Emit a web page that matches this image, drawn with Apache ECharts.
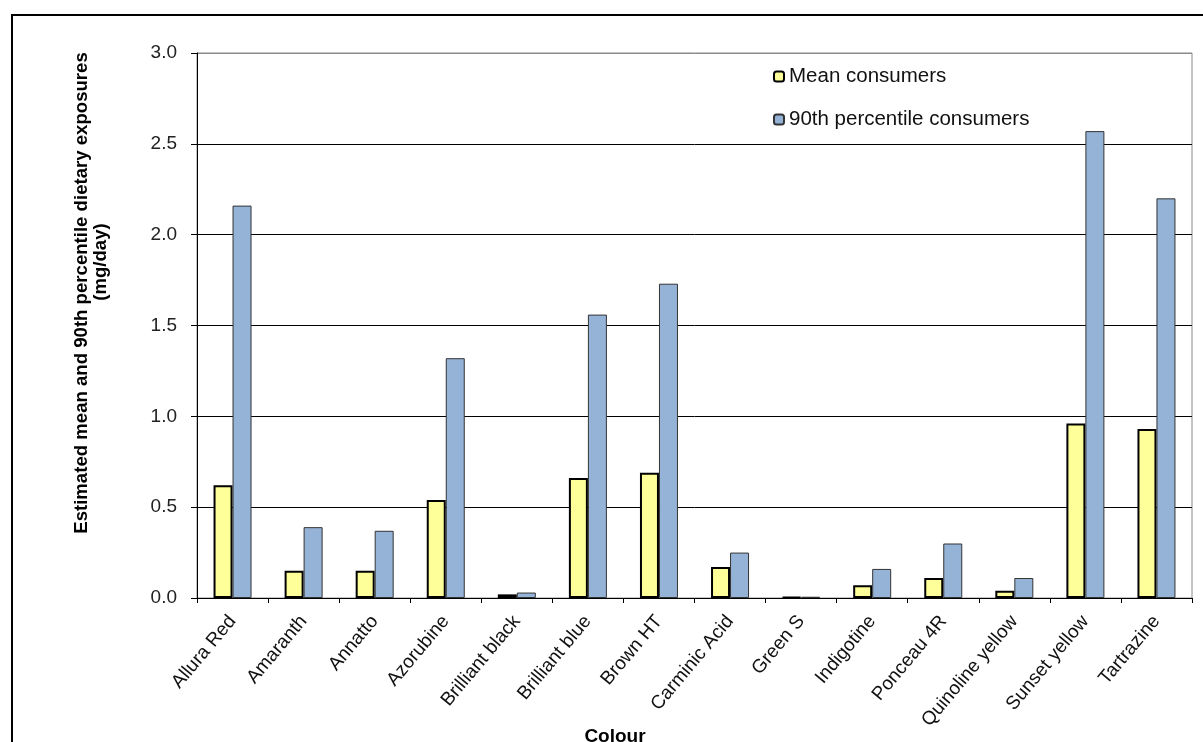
<!DOCTYPE html>
<html>
<head>
<meta charset="utf-8">
<script src="https://cdn.jsdelivr.net/npm/echarts@6/dist/echarts.min.js"></script>
<style>
  html, body { margin: 0; padding: 0; background: #fff; }
  #chart { width: 1203px; height: 742px; }
</style>
</head>
<body>
<div id="chart"></div>
<script>
// Colour additives: estimated dietary exposures (mg/day)
const colours = ['Allura Red', 'Amaranth', 'Annatto', 'Azorubine', 'Brilliant black',
  'Brilliant blue', 'Brown HT', 'Carminic Acid', 'Green S', 'Indigotine',
  'Ponceau 4R', 'Quinoline yellow', 'Sunset yellow', 'Tartrazine'];
const meanConsumers = [0.62, 0.15, 0.15, 0.54, 0.02, 0.66, 0.69, 0.17, 0.005, 0.07, 0.11, 0.04, 0.96, 0.93];
const p90Consumers = [2.16, 0.39, 0.37, 1.32, 0.03, 1.56, 1.73, 0.25, 0.007, 0.16, 0.30, 0.11, 2.57, 2.20];
const seriesNames = ['Mean consumers', '90th percentile consumers'];
const yTitleLine1 = 'Estimated mean and 90th percentile dietary exposures';
const yTitleLine2 = '(mg/day)';
const xTitle = 'Colour';

const FONT = '"Liberation Sans", Arial, sans-serif';
const chart = echarts.init(document.getElementById('chart'));

chart.setOption({
  animation: false,
  backgroundColor: '#fff',
  textStyle: { fontFamily: FONT },
  grid: {
    left: 197, right: 11, top: 53, bottom: 144,
    show: true, borderColor: '#8a8a8a', borderWidth: 1
  },
  legend: {
    orient: 'vertical',
    left: 773, top: 66,
    padding: 0,
    itemWidth: 10, itemHeight: 10,
    itemGap: 22,
    textStyle: { fontFamily: FONT, fontSize: 20.5, color: '#111' },
    data: seriesNames
  },
  xAxis: {
    type: 'category',
    data: colours,
    axisLine: { lineStyle: { color: '#000', width: 1 } },
    axisTick: { show: true, length: 5, lineStyle: { color: '#000' } },
    axisLabel: {
      rotate: 50, margin: 20, interval: 0,
      fontFamily: FONT, fontSize: 19, color: '#111'
    }
  },
  yAxis: {
    type: 'value',
    min: 0, max: 3, interval: 0.5,
    axisLine: { show: true, lineStyle: { color: '#000', width: 1 } },
    axisTick: { show: true, length: 6, lineStyle: { color: '#000' } },
    axisLabel: {
      margin: 20, fontFamily: FONT, fontSize: 19, color: '#222',
      formatter: v => v.toFixed(1)
    },
    splitLine: {
      show: true,
      lineStyle: { color: ['#000', '#000', '#000', '#000', '#000', '#000', '#8a8a8a'], width: 1 }
    }
  },
  series: [
    {
      name: seriesNames[0],
      type: 'bar',
      data: meanConsumers,
      barWidth: 19,
      barGap: '0%',
      itemStyle: { color: '#FFFF99', borderColor: '#000', borderWidth: 2 }
    },
    {
      name: seriesNames[1],
      type: 'bar',
      data: p90Consumers,
      barWidth: 19,
      itemStyle: { color: '#95B3D7', borderColor: '#333', borderWidth: 1 }
    }
  ],
  graphic: [
    {
      type: 'rect', silent: true, z: 100,
      shape: { x: 12, y: 15, width: 1400, height: 1000 },
      style: { fill: 'none', stroke: '#000', lineWidth: 2 }
    },
    {
      type: 'text', x: 82, y: 293, rotation: Math.PI / 2,
      style: {
        text: yTitleLine1, fontFamily: FONT, fontSize: 18.6, fontWeight: 'bold',
        fill: '#000', align: 'center', verticalAlign: 'middle'
      }
    },
    {
      type: 'text', x: 101, y: 262, rotation: Math.PI / 2,
      style: {
        text: yTitleLine2, fontFamily: FONT, fontSize: 18.6, fontWeight: 'bold',
        fill: '#000', align: 'center', verticalAlign: 'middle'
      }
    },
    {
      type: 'text', x: 615, y: 737,
      style: {
        text: xTitle, fontFamily: FONT, fontSize: 19, fontWeight: 'bold',
        fill: '#000', align: 'center', verticalAlign: 'middle'
      }
    }
  ]
});
</script>
</body>
</html>
